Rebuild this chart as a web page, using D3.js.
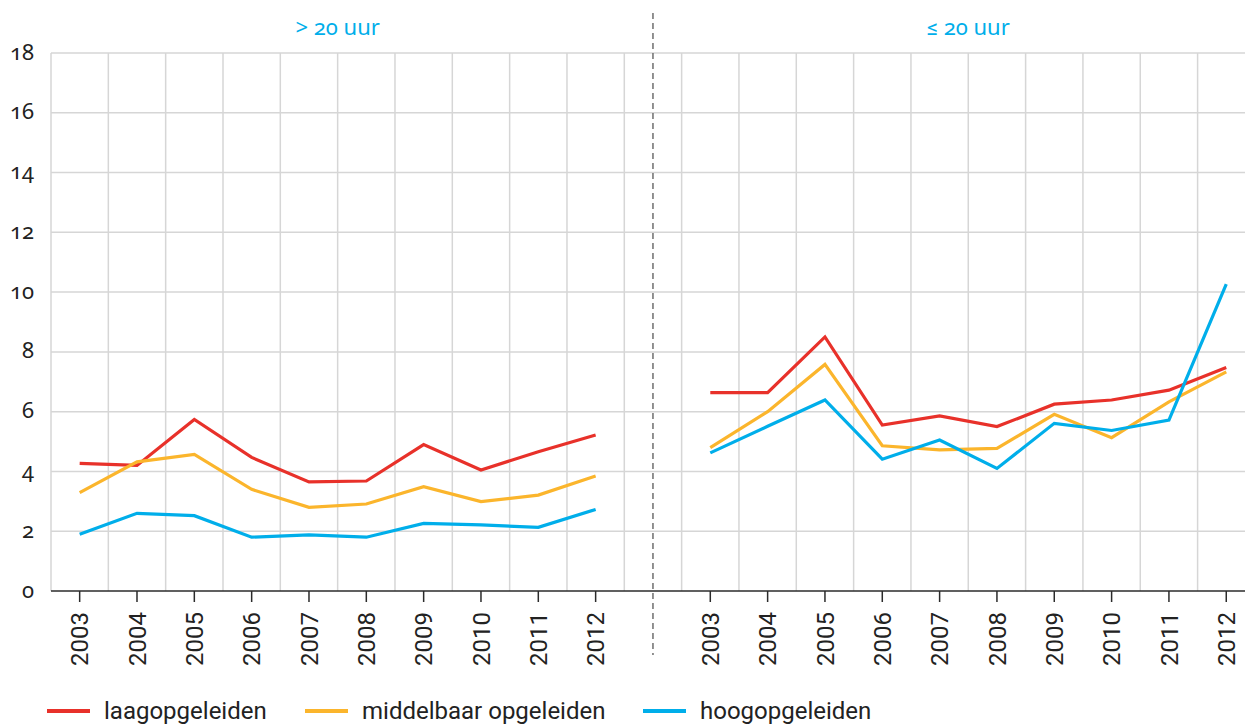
<html>
<head>
<meta charset="utf-8">
<script src="https://d3js.org/d3.v7.min.js"></script>
<style>
  body { margin: 0; background: white; }
  text { font-family: Roboto, "Noto Sans", sans-serif; fill: #222; }
</style>
</head>
<body>
<svg height="724" width="1245" id="chart"></svg>
<script>

// data
var years = ["2003", "2004", "2005", "2006", "2007", "2008", "2009", "2010", "2011", "2012"];
var panels = ["> 20 uur", "\u2264 20 uur"];
var yTicks = [0, 2, 4, 6, 8, 10, 12, 14, 16, 18];
var seriesNames = ["laagopgeleiden", "middelbaar opgeleiden", "hoogopgeleiden"];
var seriesColors = ["#e8312a", "#fbb52c", "#00aeea"];

// > 20 uur
var laagMeer = [4.27, 4.2, 5.74, 4.47, 3.65, 3.68, 4.9, 4.05, 4.66, 5.22];
var middelMeer = [3.29, 4.32, 4.57, 3.4, 2.8, 2.91, 3.49, 2.99, 3.21, 3.85];
var hoogMeer = [1.9, 2.6, 2.52, 1.8, 1.88, 1.8, 2.26, 2.21, 2.13, 2.73];
// <= 20 uur
var laagMinder = [6.64, 6.64, 8.5, 5.55, 5.86, 5.5, 6.25, 6.39, 6.72, 7.48];
var middelMinder = [4.8, 6.0, 7.58, 4.86, 4.72, 4.77, 5.91, 5.13, 6.33, 7.33];
var hoogMinder = [4.62, 5.51, 6.39, 4.41, 5.05, 4.1, 5.61, 5.37, 5.72, 10.27];

var leftData = [laagMeer, middelMeer, hoogMeer];
var rightData = [laagMinder, middelMinder, hoogMinder];

var svg = d3.select("#chart");

// one band per year, plus an empty band between the two panels
var keys = years.map(function(y) { return "L" + y; })
  .concat(["gap"])
  .concat(years.map(function(y) { return "R" + y; }));

var left = 51, bw = 57.33;
var x = d3.scaleBand()
  .domain(keys)
  .range([left, left + keys.length * bw]);

var y = d3.scaleLinear()
  .domain([0, 18])
  .range([591, 53]);

var cx = function(k) { return x(k) + x.bandwidth() / 2; };

// vertical grid on band edges
var edges = keys.map(function(k) { return x(k); }).concat([x.range()[1]]);
svg.append("g").selectAll("line")
  .data(edges)
  .enter().append("line")
  .attr("x1", function(d) { return d; })
  .attr("x2", function(d) { return d; })
  .attr("y1", y(18))
  .attr("y2", y(0))
  .style("stroke", "#d6d6d6")
  .style("stroke-width", 1.5);

// horizontal grid
svg.append("g").selectAll("line")
  .data(yTicks.filter(function(d) { return d > 0; }))
  .enter().append("line")
  .attr("x1", left)
  .attr("x2", 1245)
  .attr("y1", function(d) { return y(d); })
  .attr("y2", function(d) { return y(d); })
  .style("stroke", "#d6d6d6")
  .style("stroke-width", 1.5);

// y labels (old style figures where the font has them)
svg.append("g").selectAll("text")
  .data(yTicks)
  .enter().append("text")
  .attr("x", 34)
  .attr("y", function(d) { return y(d); })
  .attr("dy", "0.3em")
  .attr("text-anchor", "end")
  .style("font-family", "'Noto Sans', Roboto, sans-serif")
  .style("font-size", "22px")
  .style("font-variant-numeric", "oldstyle-nums")
  .text(function(d) { return d; });

// divider
svg.append("line")
  .attr("x1", cx("gap"))
  .attr("x2", cx("gap"))
  .attr("y1", 13)
  .attr("y2", 655)
  .style("stroke", "#6e6e6e")
  .style("stroke-width", 1.5)
  .style("stroke-dasharray", "6,4");

// x axis line and ticks
svg.append("line")
  .attr("x1", left)
  .attr("x2", 1245)
  .attr("y1", y(0))
  .attr("y2", y(0))
  .style("stroke", "#2b2b2b")
  .style("stroke-width", 1.5);

var yearKeys = keys.filter(function(k) { return k != "gap"; });

svg.append("g").selectAll("line")
  .data(yearKeys)
  .enter().append("line")
  .attr("x1", function(d) { return cx(d); })
  .attr("x2", function(d) { return cx(d); })
  .attr("y1", y(0))
  .attr("y2", y(0) + 11)
  .style("stroke", "#2b2b2b")
  .style("stroke-width", 1.5);

svg.append("g").selectAll("text")
  .data(yearKeys)
  .enter().append("text")
  .attr("transform", function(d) { return "translate(" + cx(d) + ",612) rotate(-90)"; })
  .attr("dy", "0.36em")
  .attr("text-anchor", "end")
  .style("font-size", "24px")
  .text(function(d) { return d.slice(1); });

// panel titles
var panelX = [(x("L2003") + x("L2012") + x.bandwidth()) / 2,
              (x("R2003") + x("R2012") + x.bandwidth()) / 2];
svg.append("g").selectAll("text")
  .data(panels)
  .enter().append("text")
  .attr("x", function(d, i) { return panelX[i]; })
  .attr("y", 35)
  .attr("text-anchor", "middle")
  .style("font-family", "'Noto Sans', Roboto, sans-serif")
  .style("font-size", "22px")
  .style("font-variant-numeric", "oldstyle-nums")
  .style("fill", "#00aeea")
  .text(function(d) { return d; });

// lines
var lineGen = function(prefix) {
  return d3.line()
    .x(function(d, i) { return cx(prefix + years[i]); })
    .y(function(d) { return y(d); });
};

var drawPanel = function(data, prefix) {
  data.forEach(function(values, s) {
    svg.append("path")
      .attr("d", lineGen(prefix)(values))
      .style("fill", "none")
      .style("stroke", seriesColors[s])
      .style("stroke-width", 3.2);
  });
};
drawPanel(leftData, "L");
drawPanel(rightData, "R");

// legend
var legendX = [47, 305, 643];
var legend = svg.append("g").selectAll("g")
  .data(seriesNames)
  .enter().append("g")
  .attr("transform", function(d, i) { return "translate(" + legendX[i] + ",711)"; });

legend.append("line")
  .attr("x1", 0)
  .attr("x2", 43)
  .style("stroke", function(d, i) { return seriesColors[i]; })
  .style("stroke-width", 4);

legend.append("text")
  .attr("x", 57)
  .attr("y", 8)
  .style("font-size", "24px")
  .text(function(d) { return d; });

</script>
</body>
</html>
